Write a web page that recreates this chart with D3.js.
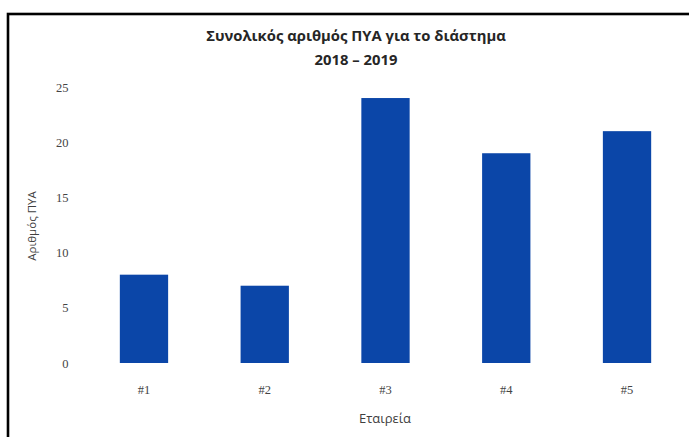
<!DOCTYPE html>
<html>
<head>
<meta charset="utf-8">
<script src="https://cdn.jsdelivr.net/npm/d3@7"></script>
<style>
  html, body { margin: 0; padding: 0; background: #fff; }
  svg { display: block; }
  text { font-family: "Open Sans", "Noto Sans", sans-serif; }
</style>
</head>
<body>
<svg id="chart" width="689" height="437"></svg>
<script>
// Companies and their total count of ΠΥΑ for 2018–2019
const companies = ["#1", "#2", "#3", "#4", "#5"];
const totals = [8, 7, 24, 19, 21];
const yTicks = [0, 5, 10, 15, 20, 25];
const titleLines = ["Συνολικός αριθμός ΠΥΑ για το διάστημα", "2018 – 2019"];
const xTitle = "Εταιρεία";
const yTitle = "Αριθμός ΠΥΑ";

const svg = d3.select("#chart");
const W = 689, H = 437;
const plot = { left: 83.6, right: 687.4, top: 87, bottom: 363 };

// outer frame: only top and left edges fall inside the view
svg.append("rect")
  .attr("x", 8).attr("y", 14)
  .attr("width", W + 10).attr("height", H + 10)
  .attr("fill", "#fff")
  .attr("stroke", "#000")
  .attr("stroke-width", 2.6);

const x = d3.scaleBand()
  .domain(companies)
  .range([plot.left, plot.right])
  .paddingInner(0.6)
  .paddingOuter(0.3);

const y = d3.scaleLinear()
  .domain([0, 25])
  .range([plot.bottom, plot.top]);

// bars
svg.append("g")
  .selectAll("rect")
  .data(companies.map((c, i) => ({ c, v: totals[i] })))
  .join("rect")
  .attr("x", d => x(d.c))
  .attr("y", d => y(d.v))
  .attr("width", x.bandwidth())
  .attr("height", d => y(0) - y(d.v))
  .attr("fill", "#0b46a8");

// y axis (labels only)
const yAxis = svg.append("g")
  .attr("transform", `translate(${plot.left - 15},0)`)
  .call(d3.axisLeft(y).tickValues(yTicks).tickSize(0).tickPadding(0));
yAxis.select(".domain").remove();
yAxis.selectAll("text")
  .attr("fill", "#444")
  .style("font-size", "12.5px")
  .style("font-family", "Liberation Serif, serif");

// x axis (labels only)
const xAxis = svg.append("g")
  .attr("transform", `translate(0,${plot.bottom + 22})`)
  .call(d3.axisBottom(x).tickSize(0).tickPadding(0));
xAxis.select(".domain").remove();
xAxis.selectAll("text")
  .attr("fill", "#444")
  .style("font-size", "12.5px")
  .style("font-family", "Liberation Serif, serif");

// title
const title = svg.append("text")
  .attr("x", 356)
  .attr("text-anchor", "middle")
  .attr("fill", "#262626")
  .style("font-size", "14.8px")
  .style("font-weight", "bold");
titleLines.forEach((t, i) => {
  title.append("tspan")
    .attr("x", 356)
    .attr("y", 41 + i * 24)
    .text(t);
});

// axis titles
svg.append("text")
  .attr("x", 385)
  .attr("y", 423)
  .attr("text-anchor", "middle")
  .attr("fill", "#404040")
  .style("font-size", "13px")
  .text(xTitle);

svg.append("text")
  .attr("transform", "translate(36,226) rotate(-90)")
  .attr("text-anchor", "middle")
  .attr("fill", "#404040")
  .style("font-size", "11.5px")
  .text(yTitle);
</script>
</body>
</html>
